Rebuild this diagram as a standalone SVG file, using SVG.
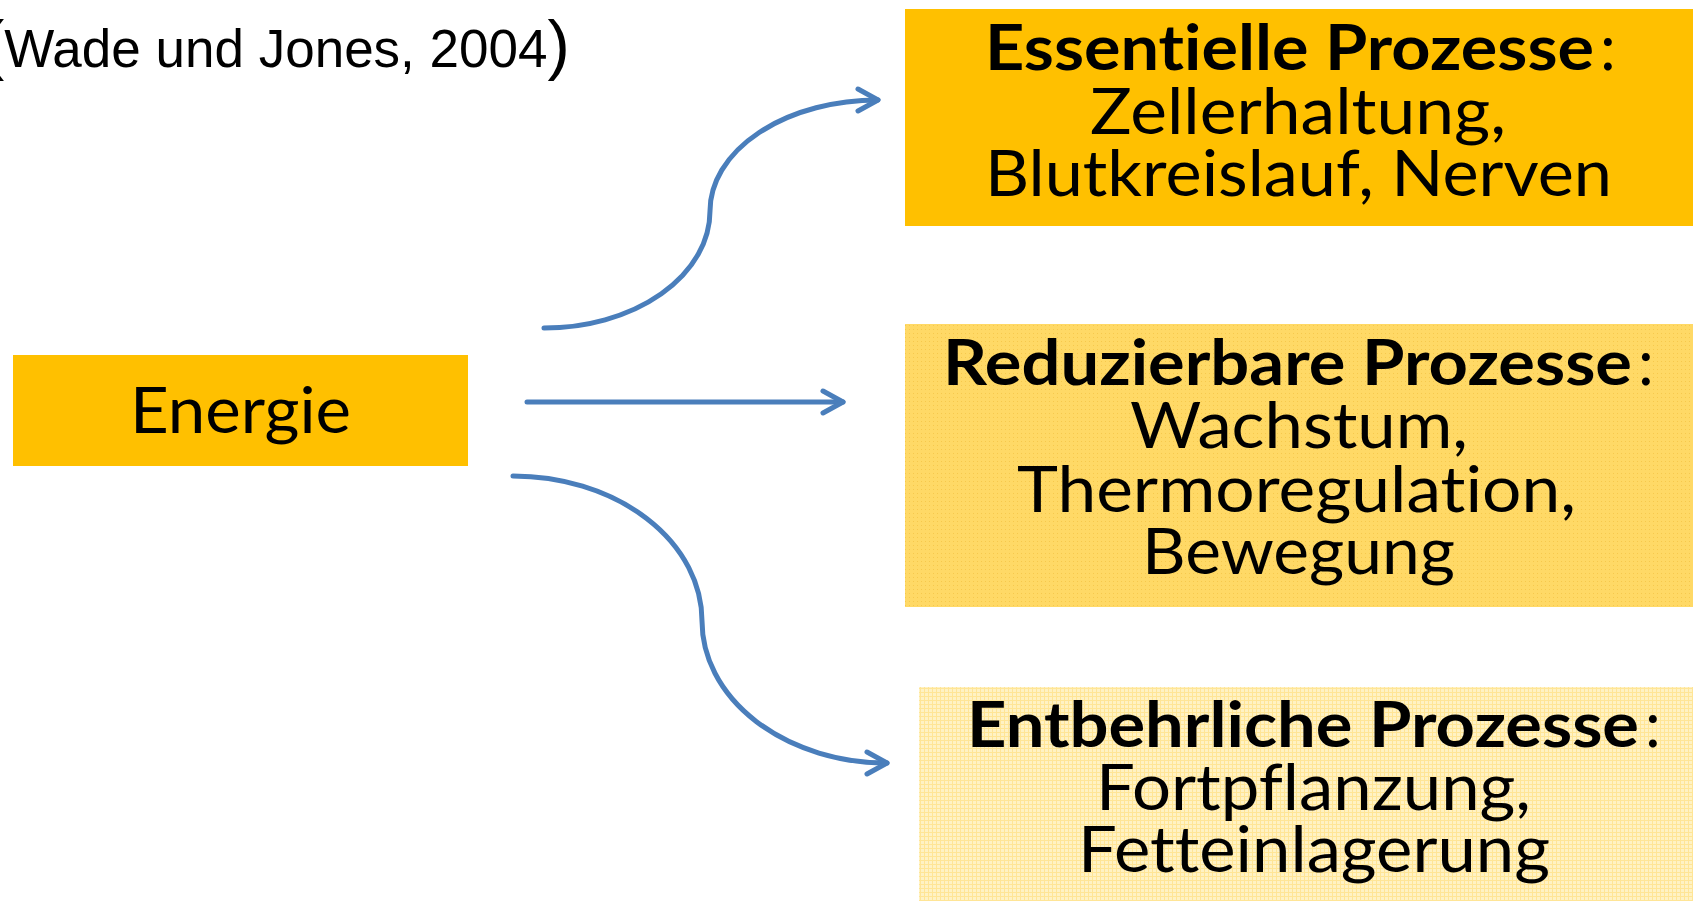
<svg xmlns="http://www.w3.org/2000/svg" width="1693" height="901" viewBox="0 0 1693 901">
  <style>
    .t { font-family: Lato, "Open Sans", sans-serif; fill: #000; font-size: 63px; font-variant-ligatures: none; font-feature-settings: "liga" 0, "clig" 0; }
    .b { font-weight: bold; }
    .cite { font-family: "Liberation Sans", Arial, sans-serif; font-size: 53px; fill: #000; }
    .conn { fill: none; stroke: #4A7EBB; stroke-width: 5; stroke-linecap: round; }
  </style>
  <defs>
    <pattern id="dots" width="4" height="4" patternUnits="userSpaceOnUse">
      <rect width="4" height="4" fill="#FFD966"/>
      <rect x="1" y="1" width="1" height="1" fill="#F6C84C"/>
    </pattern>
    <pattern id="grid" width="4" height="4" patternUnits="userSpaceOnUse">
      <rect width="4" height="4" fill="#FFF2C4"/>
      <rect x="0" y="0" width="4" height="1" fill="#FFE596"/>
      <rect x="0" y="0" width="1" height="4" fill="#FFE596"/>
    </pattern>
    <marker id="arrow" markerUnits="userSpaceOnUse" viewBox="-26 -16 30 32" refX="0" refY="0" markerWidth="30" markerHeight="32" orient="auto">
      <path d="M-20,-11 L0,0 L-20,11" fill="none" stroke="#4A7EBB" stroke-width="5" stroke-linecap="round" stroke-linejoin="round"/>
    </marker>
  </defs>

  <g id="citation">
    <text class="cite" x="-18" y="67"><tspan font-size="67">(</tspan>Wade und Jones, 2004<tspan font-size="67">)</tspan></text>
  </g>

  <g id="energie">
    <rect x="13" y="355" width="455" height="111" fill="#FFC000"/>
    <text class="t" x="130" y="433" font-size="63" textLength="221" lengthAdjust="spacingAndGlyphs">Energie</text>
  </g>

  <g id="essentielle">
    <rect x="905" y="9" width="788" height="217" fill="#FFC000"/>
    <text class="t b" x="985" y="70" textLength="609" lengthAdjust="spacingAndGlyphs">Essentielle Prozesse</text>
    <text class="t" x="1600" y="70">:</text>
    <text class="t" x="1090" y="134" textLength="416" lengthAdjust="spacingAndGlyphs">Zellerhaltung,</text>
    <text class="t" x="985" y="196" textLength="627" lengthAdjust="spacingAndGlyphs">Blutkreislauf, Nerven</text>
  </g>

  <g id="reduzierbare">
    <rect x="905" y="324" width="788" height="283" fill="url(#dots)"/>
    <text class="t b" x="943" y="385" textLength="689" lengthAdjust="spacingAndGlyphs">Reduzierbare Prozesse</text>
    <text class="t" x="1638" y="385">:</text>
    <text class="t" x="1130" y="448" textLength="338" lengthAdjust="spacingAndGlyphs">Wachstum,</text>
    <text class="t" x="1017" y="512" textLength="559" lengthAdjust="spacingAndGlyphs">Thermoregulation,</text>
    <text class="t" x="1142" y="574" textLength="313" lengthAdjust="spacingAndGlyphs">Bewegung</text>
  </g>

  <g id="entbehrliche">
    <rect x="919" y="687" width="774" height="214" fill="url(#grid)"/>
    <text class="t b" x="967" y="747" textLength="672" lengthAdjust="spacingAndGlyphs">Entbehrliche Prozesse</text>
    <text class="t" x="1645" y="747">:</text>
    <text class="t" x="1096" y="810" textLength="435" lengthAdjust="spacingAndGlyphs">Fortpflanzung,</text>
    <text class="t" x="1078" y="872" textLength="472" lengthAdjust="spacingAndGlyphs">Fetteinlagerung</text>
  </g>

  <g id="connectors">
    <path class="conn" d="M544,328 A166,117 0 0 0 710,211 A168,111 0 0 1 878,100" marker-end="url(#arrow)"/>
    <path class="conn" d="M527,402 L843,402" marker-end="url(#arrow)"/>
    <path class="conn" d="M513,476 A189,145 0 0 1 702,621 A185,142 0 0 0 887,763" marker-end="url(#arrow)"/>
  </g>
</svg>
